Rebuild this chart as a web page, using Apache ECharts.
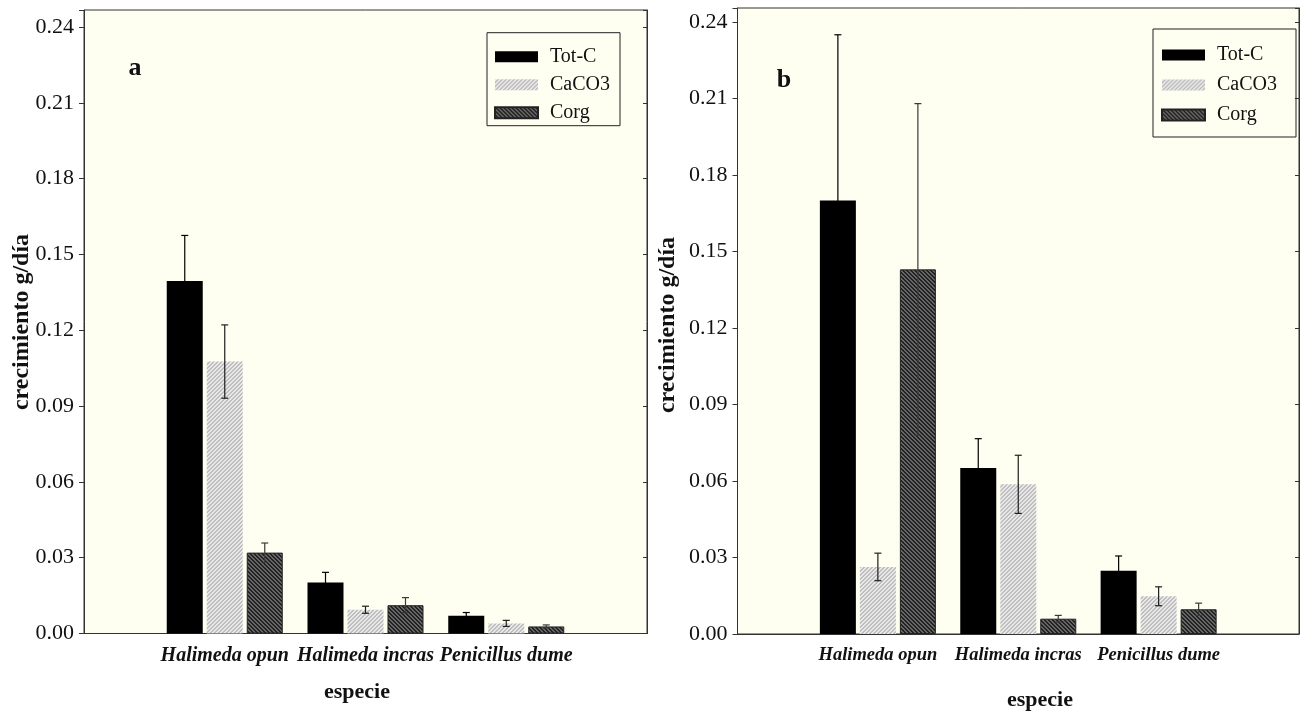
<!DOCTYPE html>
<html>
<head>
<meta charset="utf-8">
<script src="https://cdn.jsdelivr.net/npm/echarts@6/dist/echarts.min.js"></script>
<style>
html,body{margin:0;padding:0;background:#ffffff;}
#c{width:1309px;height:713px;}
</style>
</head>
<body>
<div id="c"></div>
<script>
// ---------------- data ----------------
const categories = ['Halimeda opun', 'Halimeda incras', 'Penicillus dume'];
const seriesNames = ['Tot-C', 'CaCO3', 'Corg'];
const yTickLabels = ['0.00', '0.03', '0.06', '0.09', '0.12', '0.15', '0.18', '0.21', '0.24'];
const xTitle = 'especie';
const yTitle = 'crecimiento g/día';
const panelLabels = ['a', 'b'];

// panel a
const aTotC      = [0.1395, 0.0202, 0.0070];
const aTotCErr   = [0.0180, 0.0040, 0.0013];
const aCaCO3     = [0.1076, 0.0094, 0.0040];
const aCaCO3Err  = [0.0145, 0.0014, 0.0012];
const aCorg      = [0.0320, 0.0112, 0.0028];
const aCorgErr   = [0.0038, 0.0030, 0.0006];

// panel b
const bTotC      = [0.1700, 0.0651, 0.0248];
const bTotCErr   = [0.0650, 0.0115, 0.0058];
const bCaCO3     = [0.0263, 0.0587, 0.0148];
const bCaCO3Err  = [0.0054, 0.0114, 0.0037];
const bCorg      = [0.1430, 0.0060, 0.0097];
const bCorgErr   = [0.0650, 0.0013, 0.0024];

// ---------------- style ----------------
const FONT = '"Liberation Serif", "Times New Roman", serif';
const BAR_W = 36;
const BAR_GAP_PX = 4;
const INK = '#111111';
const PLOT_BG = '#fefef1';
const ERR_COLORS = ['#000000', '#1e1e1e', '#3a3a3a'];

function makePattern(bg, fg, dir) {
  const c = document.createElement('canvas');
  c.width = 4; c.height = 4;
  const ctx = c.getContext('2d');
  ctx.fillStyle = bg; ctx.fillRect(0, 0, 4, 4);
  ctx.fillStyle = fg;
  for (let y = 0; y < 4; y++) {
    for (let x = 0; x < 4; x++) {
      const k = dir === '/' ? (x + y) % 4 : (x - y + 8) % 4;
      if (k < 2) ctx.fillRect(x, y, 1, 1);
    }
  }
  return c;
}
const patCaCO3 = makePattern('#bebebe', '#e9e9e9', '/');
const patCorg = makePattern('#666666', '#222222', '\\');

const itemStyles = [
  { color: '#000000' },
  { color: { image: patCaCO3, repeat: 'repeat' }, borderColor: '#e6e6e6', borderWidth: 0 },
  { color: { image: patCorg, repeat: 'repeat' }, borderColor: '#222222', borderWidth: 1 }
];

const xSlots = [''].concat(categories, ['']);

function barData(arr) { return arr.map((v, i) => [i + 1, v]); }

function errData(vals, errs) {
  const out = [];
  vals.forEach((arr, s) => arr.forEach((v, i) => out.push([i + 1, s, v, errs[s][i]])));
  return out;
}

function errItem(params, api) {
  const xi = api.value(0), s = api.value(1), v = api.value(2), e = api.value(3);
  const hi = api.coord([xi, v + e]);
  const lo = api.coord([xi, Math.max(0, v - e)]);
  const cx = hi[0] + (s - 1) * (BAR_W + BAR_GAP_PX);
  const cap = 3.5;
  const st = { stroke: ERR_COLORS[s], lineWidth: 1.2 };
  return {
    type: 'group',
    children: [
      { type: 'line', shape: { x1: cx, y1: hi[1], x2: cx, y2: lo[1] }, style: st },
      { type: 'line', shape: { x1: cx - cap, y1: hi[1], x2: cx + cap, y2: hi[1] }, style: st },
      { type: 'line', shape: { x1: cx - cap, y1: lo[1], x2: cx + cap, y2: lo[1] }, style: st }
    ]
  };
}

function xAxisFor(gi, size) {
  return {
    type: 'category', gridIndex: gi, data: xSlots, boundaryGap: false,
    axisLine: { show: true, lineStyle: { color: '#333', width: 1 } },
    axisTick: { show: false },
    splitLine: { show: false },
    axisLabel: {
      interval: 0, margin: 12, color: INK, fontFamily: FONT,
      fontSize: size, fontWeight: 'bold', fontStyle: 'italic'
    }
  };
}

function yAxisLeft(gi, max) {
  return {
    type: 'value', gridIndex: gi, min: 0, max: max, interval: 0.03, position: 'left',
    axisLine: { show: true, lineStyle: { color: '#333' } },
    axisTick: { show: true, inside: false, length: 5, lineStyle: { color: '#333' } },
    splitLine: { show: false },
    axisLabel: {
      margin: 10, color: INK, fontFamily: FONT, fontSize: 22,
      formatter: (v, i) => (yTickLabels[i] !== undefined ? yTickLabels[i] : '')
    }
  };
}

function yAxisRight(gi, max) {
  return {
    type: 'value', gridIndex: gi, min: 0, max: max, interval: 0.03, position: 'right',
    axisLine: { show: true, lineStyle: { color: '#333' } },
    axisTick: { show: true, inside: true, length: 4, lineStyle: { color: '#333' } },
    splitLine: { show: false },
    axisLabel: { show: false }
  };
}

const panels = [
  { vals: [aTotC, aCaCO3, aCorg], errs: [aTotCErr, aCaCO3Err, aCorgErr] },
  { vals: [bTotC, bCaCO3, bCorg], errs: [bTotCErr, bCaCO3Err, bCorgErr] }
];

const series = [];
panels.forEach((p, gi) => {
  p.vals.forEach((arr, s) => {
    series.push({
      name: seriesNames[s], type: 'bar', xAxisIndex: gi, yAxisIndex: gi * 2,
      data: barData(arr), barWidth: BAR_W,
      barGap: (BAR_GAP_PX / BAR_W * 100) + '%',
      itemStyle: itemStyles[s], emphasis: { disabled: true }, z: 2
    });
  });
  series.push({
    type: 'custom', xAxisIndex: gi, yAxisIndex: gi * 2,
    renderItem: errItem, data: errData(p.vals, p.errs),
    encode: { x: 0, y: 2 }, z: 5, silent: true
  });
});

function legendAt(left, top, padding, gap) {
  return {
    data: seriesNames, orient: 'vertical', left: left, top: top,
    padding: padding, itemGap: gap, itemWidth: 43, itemHeight: 11,
    icon: 'rect', selectedMode: false,
    borderColor: '#222', borderWidth: 1,
    textStyle: { fontFamily: FONT, fontSize: 20, lineHeight: 20, color: INK, padding: [0, 0, 0, 7] }
  };
}

function txt(x, y, text, size, extra) {
  return Object.assign({
    type: 'text', x: x, y: y, silent: true,
    style: {
      text: text, fontFamily: FONT, fontSize: size, fontWeight: 'bold',
      fill: INK, align: 'center', verticalAlign: 'middle'
    }
  }, extra || {});
}

const option = {
  backgroundColor: '#ffffff',
  animation: false,
  grid: [
    { left: 84, right: 662, top: 10, bottom: 79.5, show: true, backgroundColor: PLOT_BG, borderColor: '#333', borderWidth: 1 },
    { left: 737.5, right: 10, top: 8, bottom: 79, show: true, backgroundColor: PLOT_BG, borderColor: '#333', borderWidth: 1 }
  ],
  xAxis: [xAxisFor(0, 20), xAxisFor(1, 18.5)],
  yAxis: [yAxisLeft(0, 0.2467), yAxisRight(0, 0.2467), yAxisLeft(1, 0.2455), yAxisRight(1, 0.2455)],
  legend: [
    legendAt(487, 32.7, [14, 10, 3, 7], 8),
    legendAt(1153, 29, [16, 19, 12, 8], 10)
  ],
  graphic: [
    txt(135, 68, panelLabels[0], 26),
    txt(784, 80, panelLabels[1], 26),
    txt(22, 322, yTitle, 24, { rotation: Math.PI / 2 }),
    txt(668, 325, yTitle, 24, { rotation: Math.PI / 2 }),
    txt(357, 692, xTitle, 22),
    txt(1040, 700, xTitle, 22)
  ],
  series: series
};

const chart = echarts.init(document.getElementById('c'));
chart.setOption(option);
</script>
</body>
</html>
